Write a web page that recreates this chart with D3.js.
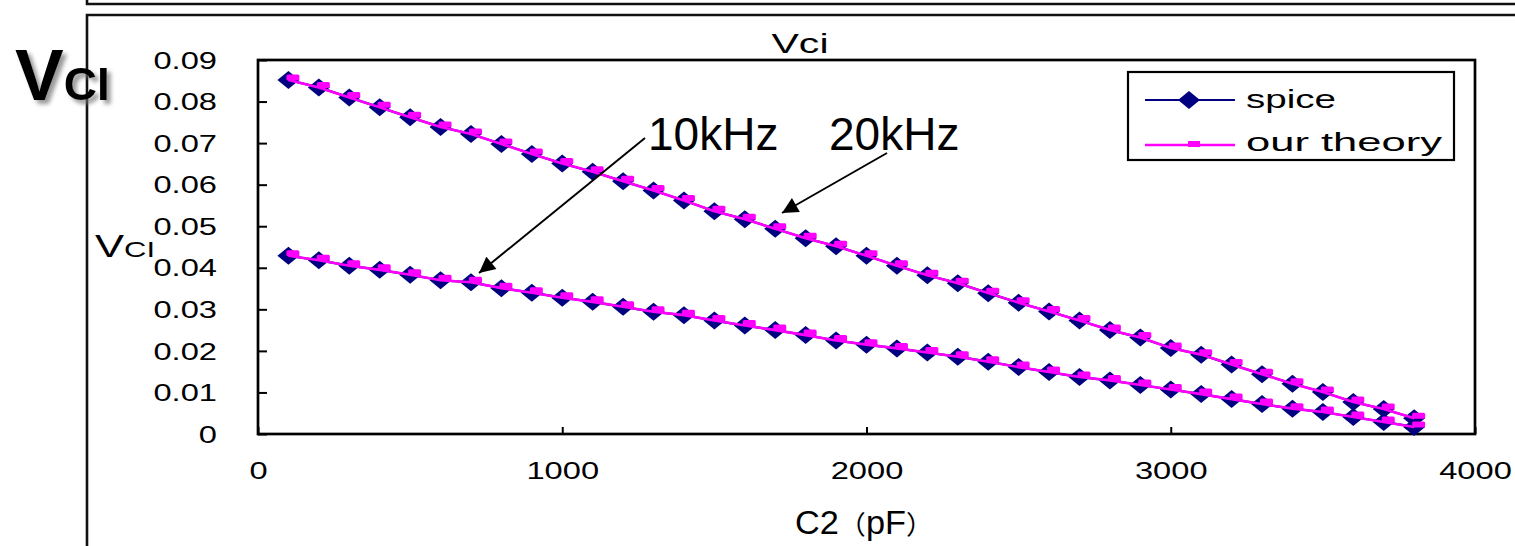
<!DOCTYPE html>
<html>
<head>
<meta charset="utf-8">
<script src="https://cdn.jsdelivr.net/npm/d3@7"></script>
<style>
  html, body { margin: 0; padding: 0; background: #fff; }
  svg { display: block; }
  text { font-family: "Liberation Sans", Arial, "Noto Sans CJK JP", sans-serif; fill: #000; }
</style>
</head>
<body>
<svg id="chart" width="1515" height="546"></svg>
<script>
// C2 capacitance sweep (pF)
const c2Values = [100, 200, 300, 400, 500, 600, 700, 800, 900, 1000,
  1100, 1200, 1300, 1400, 1500, 1600, 1700, 1800, 1900, 2000,
  2100, 2200, 2300, 2400, 2500, 2600, 2700, 2800, 2900, 3000,
  3100, 3200, 3300, 3400, 3500, 3600, 3700, 3800];

// Vci from SPICE simulation, 20 kHz
const spice20k = [0.0852, 0.0834, 0.0810, 0.0786, 0.0762, 0.0739, 0.0722, 0.0698, 0.0674, 0.0651,
  0.0631, 0.0608, 0.0586, 0.0562, 0.0536, 0.0517, 0.0494, 0.0471, 0.0452, 0.0429,
  0.0405, 0.0382, 0.0363, 0.0339, 0.0316, 0.0295, 0.0273, 0.0250, 0.0232, 0.0207,
  0.0191, 0.0167, 0.0144, 0.0121, 0.0101, 0.0077, 0.0060, 0.0038];

// Vci from SPICE simulation, 10 kHz
const spice10k = [0.0429, 0.0418, 0.0405, 0.0395, 0.0383, 0.0370, 0.0365, 0.0351, 0.0340, 0.0328,
  0.0318, 0.0306, 0.0294, 0.0286, 0.0273, 0.0261, 0.0250, 0.0238, 0.0225, 0.0215,
  0.0206, 0.0196, 0.0186, 0.0174, 0.0161, 0.0149, 0.0137, 0.0129, 0.0118, 0.0107,
  0.0096, 0.0084, 0.0072, 0.0061, 0.0053, 0.0041, 0.0029, 0.0017];

// Vci from our theory, 20 kHz
const theory20k = [0.0852, 0.0834, 0.0810, 0.0786, 0.0762, 0.0739, 0.0722, 0.0698, 0.0674, 0.0651,
  0.0631, 0.0608, 0.0586, 0.0562, 0.0536, 0.0517, 0.0494, 0.0471, 0.0452, 0.0429,
  0.0405, 0.0382, 0.0363, 0.0339, 0.0316, 0.0295, 0.0273, 0.0250, 0.0232, 0.0207,
  0.0191, 0.0167, 0.0144, 0.0121, 0.0101, 0.0077, 0.0060, 0.0038];

// Vci from our theory, 10 kHz
const theory10k = [0.0429, 0.0418, 0.0405, 0.0395, 0.0383, 0.0370, 0.0365, 0.0351, 0.0340, 0.0328,
  0.0318, 0.0306, 0.0294, 0.0286, 0.0273, 0.0261, 0.0250, 0.0238, 0.0225, 0.0215,
  0.0206, 0.0196, 0.0186, 0.0174, 0.0161, 0.0149, 0.0137, 0.0129, 0.0118, 0.0107,
  0.0096, 0.0084, 0.0072, 0.0061, 0.0053, 0.0041, 0.0029, 0.0017];

const yTickValues = [0, 0.01, 0.02, 0.03, 0.04, 0.05, 0.06, 0.07, 0.08, 0.09];
const xTickValues = [0, 1000, 2000, 3000, 4000];
const legendLabels = ["spice", "our theory"];

const NAVY = "#000080";
const MAGENTA = "#ff00ff";

const svg = d3.select("#chart");

// stretch text horizontally by a factor (the chart fonts are wide)
function widen(sel, k) {
  sel.each(function () {
    const len = this.getComputedTextLength();
    d3.select(this).attr("textLength", len * k).attr("lengthAdjust", "spacingAndGlyphs");
  });
  return sel;
}

// slide frames
const frame = svg.append("g").attr("stroke", "#111").attr("stroke-width", 2.6).attr("fill", "none");
frame.append("path").attr("d", "M87,0 V4 H1515");
frame.append("path").attr("d", "M87,546 V15 H1515");

// drop shadow for the large heading
const defs = svg.append("defs");
const f = defs.append("filter").attr("id", "shadow").attr("x", "-20%").attr("y", "-20%").attr("width", "150%").attr("height", "150%");
f.append("feDropShadow").attr("dx", 4).attr("dy", 4).attr("stdDeviation", 2)
  .attr("flood-color", "#777").attr("flood-opacity", 0.75);

const big = svg.append("text").attr("x", 15).attr("y", 100)
  .attr("font-weight", "bold").attr("filter", "url(#shadow)");
big.append("tspan").attr("font-size", 73).text("V");
big.append("tspan").attr("font-size", 46).text("CI");

// plot area
const plot = { left: 258, right: 1475, top: 60, bottom: 434 };
const x = d3.scaleLinear().domain([0, 4000]).range([plot.left, plot.right]);
const y = d3.scaleLinear().domain([0, 0.09]).range([plot.bottom, plot.top]);

svg.append("rect")
  .attr("x", plot.left).attr("y", plot.top)
  .attr("width", plot.right - plot.left).attr("height", plot.bottom - plot.top)
  .attr("fill", "none").attr("stroke", "#000").attr("stroke-width", 2.7);

// y axis: inward ticks, labels on the left
const yAxis = d3.axisLeft(y).tickValues(yTickValues).tickSizeInner(-9).tickSizeOuter(0)
  .tickPadding(41).tickFormat(d => d === 0 ? "0" : d3.format(".2f")(d));
const gy = svg.append("g").attr("transform", `translate(${plot.left},0)`).call(yAxis);
gy.select(".domain").remove();
gy.selectAll(".tick line").attr("stroke", "#000").attr("stroke-width", 2);
gy.selectAll(".tick text").attr("font-size", 24).attr("font-family", "Liberation Sans")
  .attr("dy", "0.34em").attr("fill", "#000");
widen(gy.selectAll(".tick text"), 1.36);

// x axis: inward ticks, labels below
const xAxis = d3.axisBottom(x).tickValues(xTickValues).tickSizeInner(-7).tickSizeOuter(0)
  .tickPadding(28).tickFormat(d3.format("d"));
const gx = svg.append("g").attr("transform", `translate(0,${plot.bottom})`).call(xAxis);
gx.select(".domain").remove();
gx.selectAll(".tick line").attr("stroke", "#000").attr("stroke-width", 2);
gx.selectAll(".tick text").attr("font-size", 24).attr("font-family", "Liberation Sans")
  .attr("dy", "0.71em").attr("fill", "#000");
widen(gx.selectAll(".tick text"), 1.36);

// title
const title = svg.append("text").attr("x", 800).attr("y", 53).attr("text-anchor", "middle")
  .attr("font-size", 27).text("Vci");
widen(title, 1.52);

// axis titles
const yTitle = svg.append("text").attr("x", 95).attr("y", 257);
yTitle.append("tspan").attr("font-size", 31).text("V");
yTitle.append("tspan").attr("font-size", 22).text("CI");
yTitle.attr("textLength", 60).attr("lengthAdjust", "spacingAndGlyphs");

const xTitle = svg.append("text").attr("x", 795).attr("y", 534)
  .attr("textLength", 138).attr("lengthAdjust", "spacingAndGlyphs");
xTitle.append("tspan").attr("font-size", 33).text("C2");
xTitle.append("tspan").attr("font-size", 26).attr("font-family", "Noto Sans CJK JP").text("（");
xTitle.append("tspan").attr("font-size", 33).text("pF");
xTitle.append("tspan").attr("font-size", 26).attr("font-family", "Noto Sans CJK JP").text("）");

// series
const line = d3.line().x(d => x(d[0])).y(d => y(d[1]));
const diamond = (w, h) => `M0,${-h / 2} L${w / 2},0 L0,${h / 2} L${-w / 2},0 Z`;
const pairs = vals => c2Values.map((c, i) => [c, vals[i]]);

const spiceSets = [pairs(spice20k), pairs(spice10k)];
const theorySets = [pairs(theory20k), pairs(theory10k)];

const gSeries = svg.append("g");
spiceSets.forEach(data => {
  gSeries.append("path").datum(data).attr("d", line)
    .attr("fill", "none").attr("stroke", NAVY).attr("stroke-width", 2.2);
  gSeries.append("g").selectAll("path").data(data).join("path")
    .attr("d", diamond(22, 18))
    .attr("transform", d => `translate(${x(d[0])},${y(d[1])})`)
    .attr("fill", NAVY);
});
theorySets.forEach(data => {
  gSeries.append("path").datum(data).attr("d", line)
    .attr("fill", "none").attr("stroke", MAGENTA).attr("stroke-width", 2.6);
  gSeries.append("g").selectAll("rect").data(data).join("rect")
    .attr("x", d => x(d[0]) - 2).attr("y", d => y(d[1]) - 5.5)
    .attr("width", 13).attr("height", 6).attr("rx", 1.5)
    .attr("fill", MAGENTA);
});

// frequency annotations with arrows
defs.append("marker").attr("id", "arrow").attr("viewBox", "0 0 10 10")
  .attr("refX", 10).attr("refY", 5).attr("markerWidth", 9).attr("markerHeight", 8)
  .attr("markerUnits", "strokeWidth").attr("orient", "auto")
  .append("path").attr("d", "M0,0 L10,5 L0,10 Z").attr("fill", "#000");

const notes = [
  { label: "10kHz", tx: 648, ty: 150, from: [645, 138], to: [479, 273] },
  { label: "20kHz", tx: 829, ty: 150, from: [887, 153], to: [782, 213] }
];
notes.forEach(n => {
  svg.append("text").attr("x", n.tx).attr("y", n.ty).attr("font-size", 46).text(n.label);
  svg.append("line")
    .attr("x1", n.from[0]).attr("y1", n.from[1]).attr("x2", n.to[0]).attr("y2", n.to[1])
    .attr("stroke", "#000").attr("stroke-width", 2).attr("marker-end", "url(#arrow)");
});

// legend
const lg = svg.append("g");
lg.append("rect").attr("x", 1128).attr("y", 72).attr("width", 326).attr("height", 88)
  .attr("fill", "#fff").attr("stroke", "#000").attr("stroke-width", 2.2);
const legendRows = [
  { y: 100, color: NAVY, width: 2.2, textY: 108, textW: 90 },
  { y: 145, color: MAGENTA, width: 2.6, textY: 151, textW: 196 }
];
legendRows.forEach((r, i) => {
  lg.append("line").attr("x1", 1145).attr("x2", 1235).attr("y1", r.y).attr("y2", r.y)
    .attr("stroke", r.color).attr("stroke-width", r.width);
  if (i === 0) {
    lg.append("path").attr("d", diamond(22, 18)).attr("transform", `translate(1189,${r.y})`).attr("fill", NAVY);
  } else {
    lg.append("rect").attr("x", 1188).attr("y", r.y - 4).attr("width", 12).attr("height", 6).attr("fill", MAGENTA);
  }
  lg.append("text").attr("x", 1246).attr("y", r.textY).attr("font-size", 26)
    .attr("textLength", r.textW).attr("lengthAdjust", "spacingAndGlyphs")
    .text(legendLabels[i]);
});
</script>
</body>
</html>
